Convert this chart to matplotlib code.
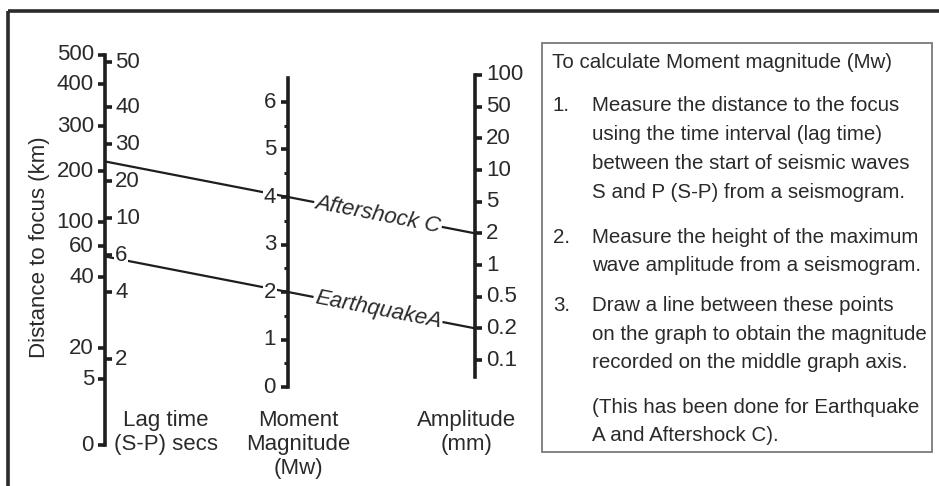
import numpy as np
import matplotlib
matplotlib.use("Agg")
import matplotlib.pyplot as plt
from matplotlib.patches import Rectangle

plt.rcParams['font.family'] = ['Liberation Sans', 'DejaVu Sans']

# ---------------- data ----------------
# left axis: distance to focus (km), tick labels and their heights on the nomogram scale
distance_labels = ["500", "400", "300", "200", "100", "60", "40", "20", "5", "0"]
distance_heights = [55, 84, 126, 171, 222, 246, 277, 348, 379, 445]
# left axis: lag time (S-P) secs
lag_labels = ["50", "40", "30", "20", "10", "6", "4", "2"]
lag_heights = [62, 107, 144, 181, 218, 255, 292, 359]
# middle axis: moment magnitude (linear)
magnitudes = [0, 1, 2, 3, 4, 5, 6]
magnitude_minor = [0.5, 1.5, 2.5, 3.5, 4.5, 5.5]
# right axis: amplitude (mm), evenly spaced
amplitude_labels = ["100", "50", "20", "10", "5", "2", "1", "0.5", "0.2", "0.1"]
amplitudes = [100, 50, 20, 10, 5, 2, 1, 0.5, 0.2, 0.1]
# events drawn on the nomogram
events = ["EarthquakeA", "Aftershock C"]
event_magnitudes = [2, 4]
event_amplitudes = [0.2, 2]

instructions_title = "To calculate Moment magnitude (Mw)"
instructions = [
    ("1.", ["Measure the distance to the focus",
            "using the time interval (lag time)",
            "between the start of seismic waves",
            "S and P (S-P) from a seismogram."]),
    ("2.", ["Measure the height of the maximum",
            "wave amplitude from a seismogram."]),
    ("3.", ["Draw a line between these points",
            "on the graph to obtain the magnitude",
            "recorded on the middle graph axis."]),
    ("", ["(This has been done for Earthquake",
          "A and Aftershock C)."]),
]

# ---------------- layout ----------------
W, H = 939, 486
fig = plt.figure(figsize=(W / 100, H / 100), dpi=100)
ax = fig.add_axes([0, 0, 1, 1])
ax.set_xlim(0, W)
ax.set_ylim(H, 0)
ax.axis('off')

ink = '#1e1e1e'
txt = '#2a2a2a'
fs = 16
fs_box = 14.8
axlw = 2.6
tick = 7

x_left, x_mid, x_right = 105, 288, 475
white = dict(facecolor='white', edgecolor='none', pad=0.4)

# outer frame (top + left)
ax.plot([8, W], [11, 11], color='#2a2a2a', lw=2.6, solid_capstyle='butt')
ax.plot([8, 8], [11, H], color='#2a2a2a', lw=2.6, solid_capstyle='butt')

# scales
def mag_y(m):
    return 387 - 47.5 * m

def amp_y(a):
    i = np.interp(np.log10(a), np.log10(amplitudes[::-1]),
                  np.arange(len(amplitudes))[::-1])
    return 75 + i * (360 - 75) / (len(amplitudes) - 1)

# left axis
ax.plot([x_left, x_left], [min(distance_heights), max(distance_heights)],
        color=ink, lw=axlw, solid_capstyle='projecting', zorder=3)
for lab, y in zip(distance_labels, distance_heights):
    ax.plot([x_left - tick, x_left], [y, y], color=ink, lw=axlw, zorder=3,
            solid_capstyle='butt')
    ax.text(x_left - 11, y, lab, ha='right', va='center', fontsize=fs, color=txt)
for lab, y in zip(lag_labels, lag_heights):
    ax.plot([x_left, x_left + tick], [y, y], color=ink, lw=axlw, zorder=3,
            solid_capstyle='butt')
    ax.text(x_left + 10, y, lab, ha='left', va='center', fontsize=fs,
            color=txt, bbox=white, zorder=5)

# middle axis
ax.plot([x_mid, x_mid], [mag_y(0), mag_y(6.5)], color=ink, lw=axlw,
        solid_capstyle='projecting', zorder=3)
for m in magnitudes:
    y = mag_y(m)
    ax.plot([x_mid - tick, x_mid], [y, y], color=ink, lw=axlw, zorder=3,
            solid_capstyle='butt')
    ax.text(x_mid - 12, y, str(m), ha='right', va='center', fontsize=fs,
            color=txt, bbox=white, zorder=5)
for m in magnitude_minor:
    y = mag_y(m)
    ax.plot([x_mid - 4, x_mid], [y, y], color=ink, lw=2.2, zorder=3,
            solid_capstyle='butt')

# right axis
ax.plot([x_right, x_right], [amp_y(100), 377], color=ink, lw=axlw,
        solid_capstyle='projecting', zorder=3)
for lab, a in zip(amplitude_labels, amplitudes):
    y = amp_y(a)
    ax.plot([x_right, x_right + tick], [y, y], color=ink, lw=axlw, zorder=3,
            solid_capstyle='butt')
    ax.text(x_right + 11, y, lab, ha='left', va='center', fontsize=fs,
            color=txt, bbox=white, zorder=5)

# axis titles
ax.text(40, 247, "Distance to focus (km)", rotation=90, ha='center',
        va='center', fontsize=fs, color=txt)
for s, y in zip(["Lag time", "(S-P) secs"], [420, 444]):
    ax.text(166, y, s, ha='center', va='center', fontsize=fs, color=txt)
for s, y in zip(["Moment", "Magnitude", "(Mw)"], [420, 444, 468]):
    ax.text(298, y, s, ha='center', va='center', fontsize=fs, color=txt)
for s, y in zip(["Amplitude", "(mm)"], [420, 444]):
    ax.text(467, y, s, ha='center', va='center', fontsize=fs, color=txt)

# event lines
fig.canvas.draw()
for name, m, a in zip(events, event_magnitudes, event_amplitudes):
    y1, y2 = mag_y(m), amp_y(a)
    slope = (y2 - y1) / (x_right - x_mid)
    y0 = y1 - slope * (x_mid - x_left)
    ax.plot([x_left, x_right], [y0, y2], color=ink, lw=1.6, zorder=2)
    p0 = ax.transData.transform((x_mid, y1))
    p1 = ax.transData.transform((x_right, y2))
    ang = np.degrees(np.arctan2(p1[1] - p0[1], p1[0] - p0[0]))
    xc = 378
    yc = y1 + slope * (xc - x_mid)
    ax.text(xc, yc, name, rotation=ang, rotation_mode='anchor', ha='center',
            va='center', fontsize=fs, style='italic', color=txt,
            bbox=dict(facecolor='white', edgecolor='none', pad=1.0), zorder=6)

# instruction box
ax.add_patch(Rectangle((542, 43), 932 - 542, 452 - 43, facecolor='white',
                       edgecolor='#7a7a7a', lw=1.3, zorder=1))
ax.text(552, 62, instructions_title, ha='left', va='center', fontsize=fs_box,
        color=txt)
ys = [[105, 134, 163, 192], [237, 265], [305, 334, 362], [407, 435]]
for (num, lines), yl in zip(instructions, ys):
    if num:
        ax.text(553, yl[0], num, ha='left', va='center', fontsize=fs_box,
                color=txt)
    for line, y in zip(lines, yl):
        ax.text(592, y, line, ha='left', va='center', fontsize=fs_box,
                color=txt)

fig.savefig("out.png", dpi=100)
